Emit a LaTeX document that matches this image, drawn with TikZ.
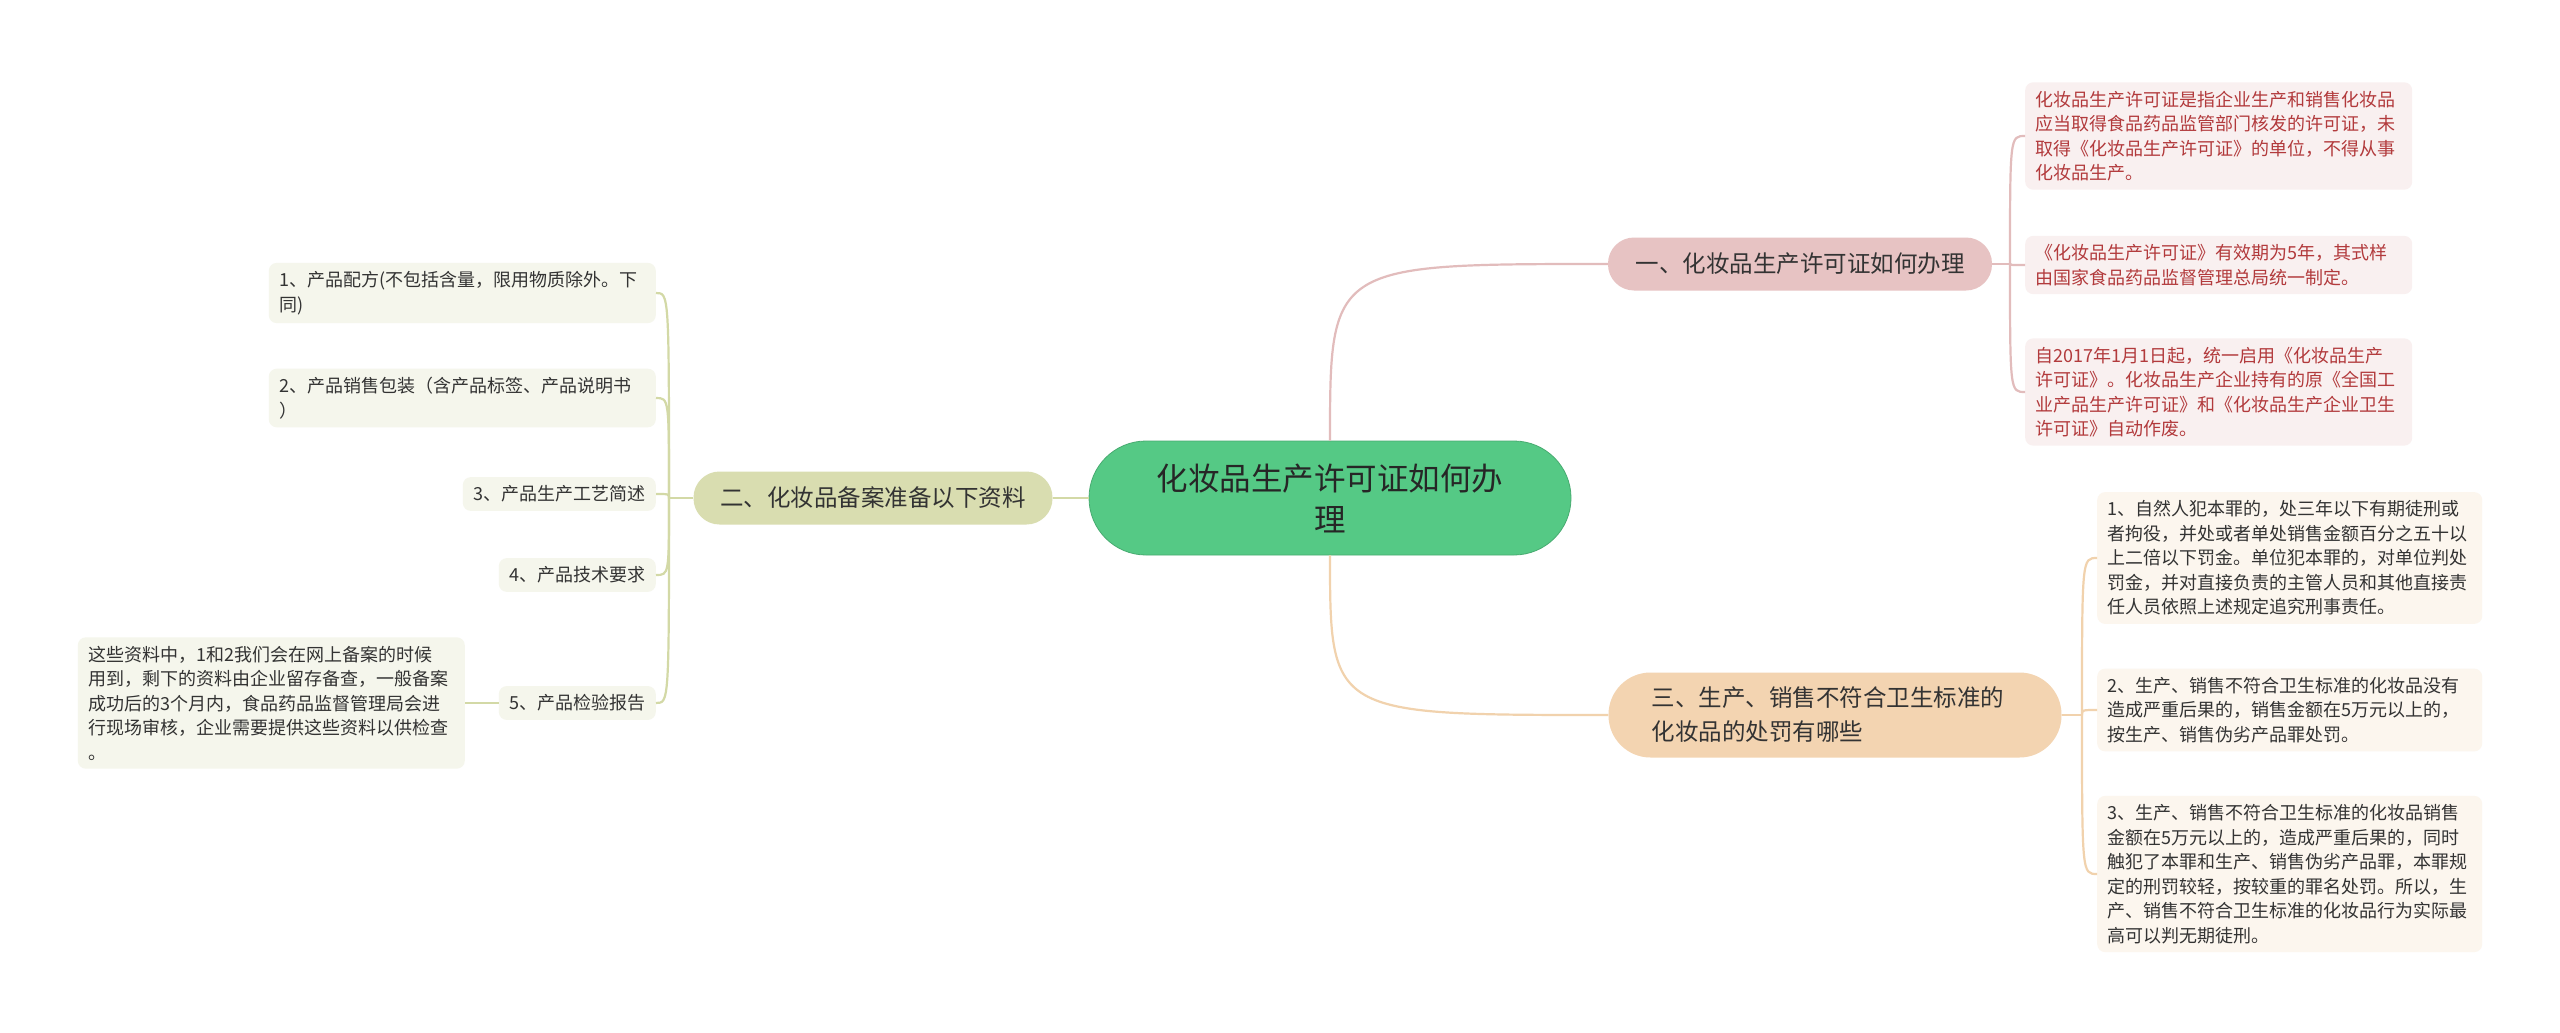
\documentclass[tikz,border=0pt]{standalone}
\usepackage{fontspec}
\setmainfont{Noto Sans CJK SC}
\usetikzlibrary{calc}

\definecolor{rootfill}{HTML}{55C985}
\definecolor{onefill}{HTML}{E7C3C3}
\definecolor{twofill}{HTML}{D9DDB0}
\definecolor{threefill}{HTML}{F3D4B1}
\definecolor{oneleaf}{HTML}{F9F0F0}
\definecolor{twoleaf}{HTML}{F5F6EC}
\definecolor{threeleaf}{HTML}{FCF6EE}
\definecolor{oneline}{HTML}{E2BCBC}
\definecolor{twoline}{HTML}{D3D9A6}
\definecolor{threeline}{HTML}{F1D2AD}
\definecolor{onetext}{HTML}{B23A3C}
\definecolor{darktext}{HTML}{333333}

\tikzset{
  rootbox/.style={fill=rootfill, draw=rootfill!85!black, line width=0.8pt,
    rounded corners=57pt, minimum width=482pt, minimum height=114pt,
    align=center, text=black!85, font=\fontsize{31.5}{41}\selectfont},
  branchbox/.style={rounded corners=26pt, minimum height=53pt, text=darktext,
    font=\fontsize{23.5}{34}\selectfont},
  leafbox/.style={rounded corners=8pt, inner xsep=10.5pt, inner ysep=8.5pt,
    align=left, text=darktext, font=\fontsize{18}{24.5}\selectfont},
  wideleaf/.style={leafbox, text width=366pt},
  link/.style={line width=2.2pt},
}

\begin{document}
\begin{tikzpicture}[x=1pt, y=-1pt]
  \useasboundingbox (0,0) rectangle (2560,1033);
  \fill [white] (0,0) rectangle (2560,1033);

  % centre and main branches
  \node [rootbox] (root) at (1330, 498) {化妆品生产许可证如何办\\理};
  \node [branchbox, fill=onefill, minimum width=384pt] (one) at (1800, 264) {一、化妆品生产许可证如何办理};
  \node [branchbox, fill=twofill, minimum width=359pt] (two) at (873, 498) {二、化妆品备案准备以下资料};
  \node [branchbox, fill=threefill, rounded corners=42pt, align=left, text width=367pt,
    inner xsep=43pt, inner ysep=12pt, minimum height=85pt] (three) at (1835, 715)
    {三、生产、销售不符合卫生标准的\\化妆品的处罚有哪些};

  % branch one
  \node [wideleaf, fill=oneleaf, text=onetext, anchor=west] (one-a) at (2025, 136)
    {化妆品生产许可证是指企业生产和销售化妆品\\应当取得食品药品监管部门核发的许可证，未\\取得《化妆品生产许可证》的单位，不得从事\\化妆品生产。};
  \node [wideleaf, fill=oneleaf, text=onetext, anchor=west] (one-b) at (2025, 265)
    {《化妆品生产许可证》有效期为5年，其式样\\由国家食品药品监督管理总局统一制定。};
  \node [wideleaf, fill=oneleaf, text=onetext, anchor=west] (one-c) at (2025, 392)
    {自2017年1月1日起，统一启用《化妆品生产\\许可证》。化妆品生产企业持有的原《全国工\\业产品生产许可证》和《化妆品生产企业卫生\\许可证》自动作废。};

  % branch two
  \node [wideleaf, fill=twoleaf, anchor=east] (two-a) at (656, 293)
    {1、产品配方(不包括含量，限用物质除外。下\\同)};
  \node [wideleaf, fill=twoleaf, anchor=east] (two-b) at (656, 398)
    {2、产品销售包装（含产品标签、产品说明书\\）};
  \node [leafbox, fill=twoleaf, anchor=east] (two-c) at (656, 494) {3、产品生产工艺简述};
  \node [leafbox, fill=twoleaf, anchor=east] (two-d) at (656, 575) {4、产品技术要求};
  \node [leafbox, fill=twoleaf, anchor=east] (two-e) at (656, 703) {5、产品检验报告};
  \node [wideleaf, fill=twoleaf, anchor=east] (note) at (465, 703)
    {这些资料中，1和2我们会在网上备案的时候\\用到，剩下的资料由企业留存备查，一般备案\\成功后的3个月内，食品药品监督管理局会进\\行现场审核，企业需要提供这些资料以供检查\\。};

  % branch three
  \node [wideleaf, fill=threeleaf, anchor=west, text width=364pt] (three-a) at (2097, 558)
    {1、自然人犯本罪的，处三年以下有期徒刑或\\者拘役，并处或者单处销售金额百分之五十以\\上二倍以下罚金。单位犯本罪的，对单位判处\\罚金，并对直接负责的主管人员和其他直接责\\任人员依照上述规定追究刑事责任。};
  \node [wideleaf, fill=threeleaf, anchor=west, text width=364pt] (three-b) at (2097, 710)
    {2、生产、销售不符合卫生标准的化妆品没有\\造成严重后果的，销售金额在5万元以上的，\\按生产、销售伪劣产品罪处罚。};
  \node [wideleaf, fill=threeleaf, anchor=west, text width=364pt] (three-c) at (2097, 874)
    {3、生产、销售不符合卫生标准的化妆品销售\\金额在5万元以上的，造成严重后果的，同时\\触犯了本罪和生产、销售伪劣产品罪，本罪规\\定的刑罚较轻，按较重的罪名处罚。所以，生\\产、销售不符合卫生标准的化妆品行为实际最\\高可以判无期徒刑。};

  \coordinate (one-fork) at (2010, 264);
  \coordinate (two-fork) at (669, 498);
  \coordinate (three-fork) at (2082, 715);

  % connectors
  \draw [link, oneline] (root.north) .. controls (root.north |- one.west) .. (one.west);
  \draw [link, twoline] (root.west) -- (two.east);
  \draw [link, threeline] (root.south) .. controls (root.south |- three.west) .. (three.west);

  \draw [link, oneline] (one.east) -- (one-fork);
  \foreach \leaf in {one-a, one-b, one-c}
    \draw [link, oneline] (one-fork) .. controls (one-fork |- \leaf.west) .. (\leaf.west);

  \draw [link, twoline] (two.west) -- (two-fork);
  \foreach \leaf in {two-a, two-b, two-c, two-d, two-e}
    \draw [link, twoline] (two-fork) .. controls (two-fork |- \leaf.east) .. (\leaf.east);
  \draw [link, twoline] (two-e.west) -- (note.east);

  \draw [link, threeline] (three.east) -- (three-fork);
  \foreach \leaf in {three-a, three-b, three-c}
    \draw [link, threeline] (three-fork) .. controls (three-fork |- \leaf.west) .. (\leaf.west);
\end{tikzpicture}
\end{document}
